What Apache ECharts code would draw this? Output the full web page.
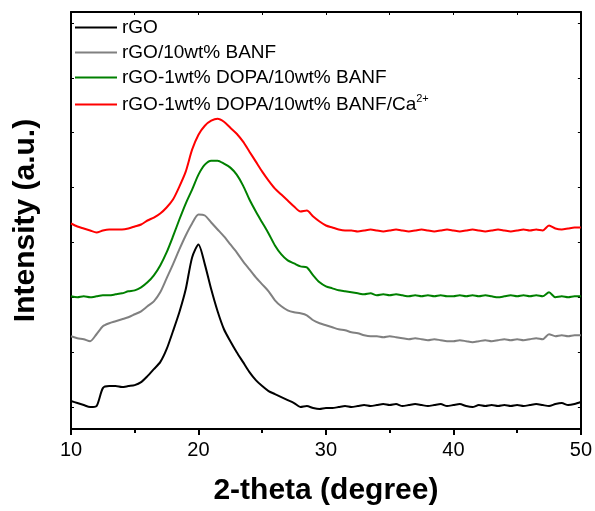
<!DOCTYPE html>
<html>
<head>
<meta charset="utf-8">
<script src="https://cdn.jsdelivr.net/npm/echarts@6/dist/echarts.min.js"></script>
<style>
html, body { margin: 0; padding: 0; background: #fff; }
#container { width: 595px; height: 511px; }
</style>
</head>
<body>
<div id="container"></div>
<script>
var dom = document.getElementById("container");
var myChart = echarts.init(dom);

// 2-theta grid, step 0.5
var theta = [];
for (var t = 10; t <= 50.001; t += 0.5) { theta.push(t); }

var legenddata = ['rGO', 'rGO/10wt% BANF', 'rGO-1wt% DOPA/10wt% BANF', 'rGO-1wt% DOPA/10wt% BANF/Ca2+'];

// intensities, arbitrary units (stacked offsets as drawn)
var rGO = [28, 26, 24, 22, 23, 41, 43, 43, 42, 43,
    44, 47, 53, 60, 67, 80, 98, 117, 140, 172,
    185, 165, 140, 118, 100, 88, 77, 67, 57, 49,
    43, 38, 35, 32, 29, 26, 22, 23, 21, 20,
    21, 21, 22, 23, 22, 23, 24, 23, 24, 25,
    24, 25, 23, 24, 25, 24, 23, 24, 25, 23,
    24, 25, 23, 22, 24, 23, 24, 23, 24, 23,
    24, 23, 24, 25, 24, 23, 25, 26, 24, 25,
    27];
var rGO_BANF = [93, 91, 90, 88, 95, 103, 106, 108, 110, 112,
    115, 118, 123, 128, 137, 151, 165, 180, 194, 206,
    215, 214, 207, 200, 193, 185, 177, 168, 160, 152,
    145, 138, 129, 123, 119, 117, 116, 114, 109, 106,
    104, 102, 100, 99, 97, 96, 94, 93, 93, 92,
    93, 92, 91, 90, 91, 90, 89, 90, 89, 88,
    88, 89, 88, 87, 88, 89, 88, 89, 90, 89,
    90, 89, 90, 91, 90, 95, 93, 94, 93, 94,
    94];
var rGO_DOPA_BANF = [133, 132, 133, 132, 133, 134, 134, 135, 136, 138,
    139, 142, 147, 154, 164, 177, 193, 210, 226, 240,
    255, 265, 269, 269, 266, 262, 255, 244, 230, 218,
    207, 196, 184, 175, 169, 166, 163, 162, 154, 147,
    143, 141, 139, 138, 137, 136, 135, 136, 134, 135,
    134, 135, 134, 133, 134, 133, 134, 133, 134, 133,
    133, 134, 133, 134, 133, 134, 133, 132, 133, 134,
    133, 134, 133, 134, 133, 137, 132, 133, 132, 133,
    133];
var rGO_DOPA_BANF_Ca = [206, 203, 201, 199, 197, 199, 200, 200, 200, 201,
    203, 205, 209, 212, 216, 222, 230, 243, 258, 280,
    295, 304, 309, 311, 308, 302, 296, 288, 278, 268,
    258, 249, 241, 235, 229, 223, 218, 219, 213, 208,
    204, 202, 200, 199, 199, 198, 199, 200, 199, 198,
    199, 200, 199, 198, 199, 200, 199, 198, 199, 200,
    199, 198, 199, 200, 199, 198, 199, 200, 199, 198,
    199, 200, 199, 200, 199, 204, 201, 200, 201, 202,
    202];

var yTicks = [22, 77, 132, 187, 242, 297, 352, 407];

var pair = function (ys) {
    var out = [];
    for (var i = 0; i < theta.length; i++) {
        out.push([theta[i], ys[i]]);
    }
    return out;
};

var colors = ['#000000', '#808080', '#008000', '#ff0000'];
var allData = [rGO, rGO_BANF, rGO_DOPA_BANF, rGO_DOPA_BANF_Ca];

var series = [];
for (var i = 0; i < allData.length; i++) {
    series.push({
        name: legenddata[i],
        type: 'line',
        data: pair(allData[i]),
        showSymbol: false,
        symbol: 'none',
        smooth: 0.25,
        lineStyle: { color: colors[i], width: 2 },
        itemStyle: { color: colors[i] }
    });
}

var font = 'Liberation Sans, Arial, sans-serif';

var option = {
    animation: false,
    textStyle: { fontFamily: font },
    grid: { left: 71, right: 11, top: 12, bottom: 81 },
    legend: {
        orient: 'vertical',
        left: 70,
        top: 13,
        icon: 'rect',
        itemWidth: 42,
        itemHeight: 2,
        itemGap: 6,
        data: legenddata,
        textStyle: {
            fontSize: 19,
            color: '#000',
            fontFamily: font,
            rich: {
                sup: { fontSize: 11, verticalAlign: 'top', padding: [0, 0, 12, 0], fontFamily: font, color: '#000' }
            }
        },
        formatter: function (name) {
            if (name === legenddata[3]) {
                return 'rGO-1wt% DOPA/10wt% BANF/Ca{sup|2+}';
            }
            return name;
        }
    },
    xAxis: [
        {
            type: 'value',
            min: 10,
            max: 50,
            interval: 10,
            name: '2-theta (degree)',
            nameLocation: 'middle',
            nameGap: 47,
            nameTextStyle: { fontSize: 30, fontWeight: 'bold', color: '#000', fontFamily: font },
            axisLine: { show: true, onZero: false, lineStyle: { color: '#000', width: 2 } },
            axisTick: { show: true, inside: false, length: 6, lineStyle: { color: '#000', width: 2 } },
            minorTick: { show: true, splitNumber: 2, length: 4, lineStyle: { color: '#000', width: 2 } },
            axisLabel: { fontSize: 20, color: '#000', margin: 11, fontFamily: font },
            splitLine: { show: false }
        },
        {
            type: 'value',
            position: 'top',
            min: 10,
            max: 50,
            interval: 5,
            axisLine: { show: true, onZero: false, lineStyle: { color: '#000', width: 2 } },
            axisTick: { show: true, inside: true, length: 3, lineStyle: { color: '#000', width: 1 } },
            axisLabel: { show: false },
            splitLine: { show: false }
        }
    ],
    yAxis: [
        {
            type: 'value',
            min: 0,
            max: 418,
            name: 'Intensity (a.u.)',
            nameLocation: 'middle',
            nameGap: 30,
            nameTextStyle: { fontSize: 30, fontWeight: 'bold', color: '#000', fontFamily: font },
            axisLine: { show: true, onZero: false, lineStyle: { color: '#000', width: 2 } },
            axisTick: { show: true, inside: true, length: 3, customValues: yTicks, lineStyle: { color: '#000', width: 1 } },
            axisLabel: { show: false },
            splitLine: { show: false }
        },
        {
            type: 'value',
            position: 'right',
            min: 0,
            max: 418,
            axisLine: { show: true, onZero: false, lineStyle: { color: '#000', width: 2 } },
            axisTick: { show: true, inside: true, length: 3, customValues: yTicks, lineStyle: { color: '#000', width: 1 } },
            axisLabel: { show: false },
            splitLine: { show: false }
        }
    ],
    series: series
};

if (option && typeof option === "object") {
    myChart.setOption(option, false);
}
</script>
</body>
</html>
